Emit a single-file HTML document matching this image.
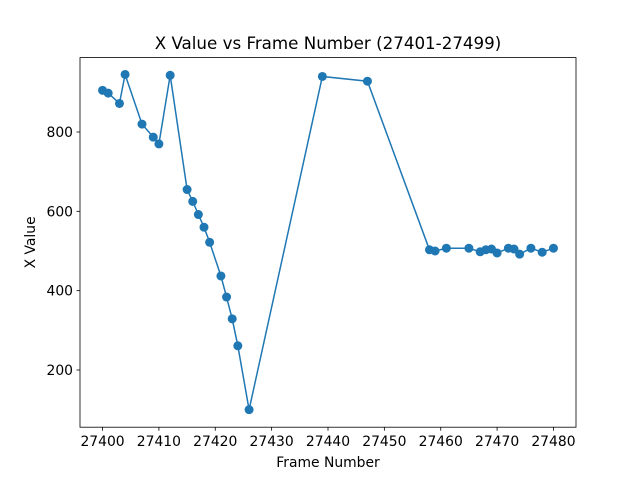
<!DOCTYPE html>
<html><head><meta charset="utf-8"><style>body{margin:0;background:#fff}svg text{font-family:"DejaVu Sans","Liberation Sans",sans-serif;fill:#000}</style></head>
<body>
<svg id="c" width="640" height="480" xmlns="http://www.w3.org/2000/svg"></svg>
<script>
const frames=[27400,27401,27403,27404,27407,27409,27410,27412,27415,27416,27417,27418,27419,27421,27422,27423,27424,27426,27439,27447,27458,27459,27461,27465,27467,27468,27469,27470,27472,27473,27474,27476,27478,27480];
const xValues=[905,898,872,945,820,787,770,943,655,625,592,560,522,437,384,329,261,100,940,928,503,500,507,507,498,503,505,495,507,505,492,507,497,507];
const xTicks=[27400,27410,27420,27430,27440,27450,27460,27470,27480];
const yTicks=[200,400,600,800];
const L=80,R=576,T=57.6,B=427.2;
const x0=27396,x1=27484;
const sx=v=>L+(v-x0)/(x1-x0)*(R-L);
const sy=v=>132+(800-v)*238/600;
const svg=document.getElementById('c');const NS='http://www.w3.org/2000/svg';
function mk(t,a,p){const e=document.createElementNS(NS,t);for(const k in a)e.setAttribute(k,a[k]);(p||svg).appendChild(e);return e;}
let d=frames.map((f,i)=>(i?'L':'M')+sx(f)+','+sy(xValues[i])).join('');
const line=mk('path',{d:d,fill:'none',stroke:'#1f77b4','stroke-width':1.5});


frames.forEach((f,i)=>{const c=mk('circle',{cx:sx(f),cy:sy(xValues[i]),r:4.5,fill:'#1f77b4'});

});
const fr=mk('rect',{x:L,y:T,width:R-L,height:B-T,fill:'none',stroke:'#000','stroke-width':0.8});


xTicks.forEach(t=>{const x=sx(t);mk('line',{x1:x,x2:x,y1:B,y2:B+3.5,stroke:'#000','stroke-width':0.8});
const tx=mk('text',{x:x,y:B+19,'text-anchor':'middle','font-size':13.9});tx.textContent=t;

});
yTicks.forEach(t=>{const y=sy(t);mk('line',{x1:L-3.5,x2:L,y1:y,y2:y,stroke:'#000','stroke-width':0.8});
const tx=mk('text',{x:L-7,y:y+5,'text-anchor':'end','font-size':13.9});tx.textContent=t;

});
const ti=mk('text',{x:(L+R)/2,y:49,'text-anchor':'middle','font-size':16.7});ti.textContent='X Value vs Frame Number (27401-27499)';


const xl=mk('text',{x:(L+R)/2,y:467,'text-anchor':'middle','font-size':13.9});xl.textContent='Frame Number';


const yl=mk('text',{x:0,y:0,'text-anchor':'middle','font-size':13.9,transform:'translate(35,'+((T+B)/2)+') rotate(-90)'});yl.textContent='X Value';


</script>
</body></html>
